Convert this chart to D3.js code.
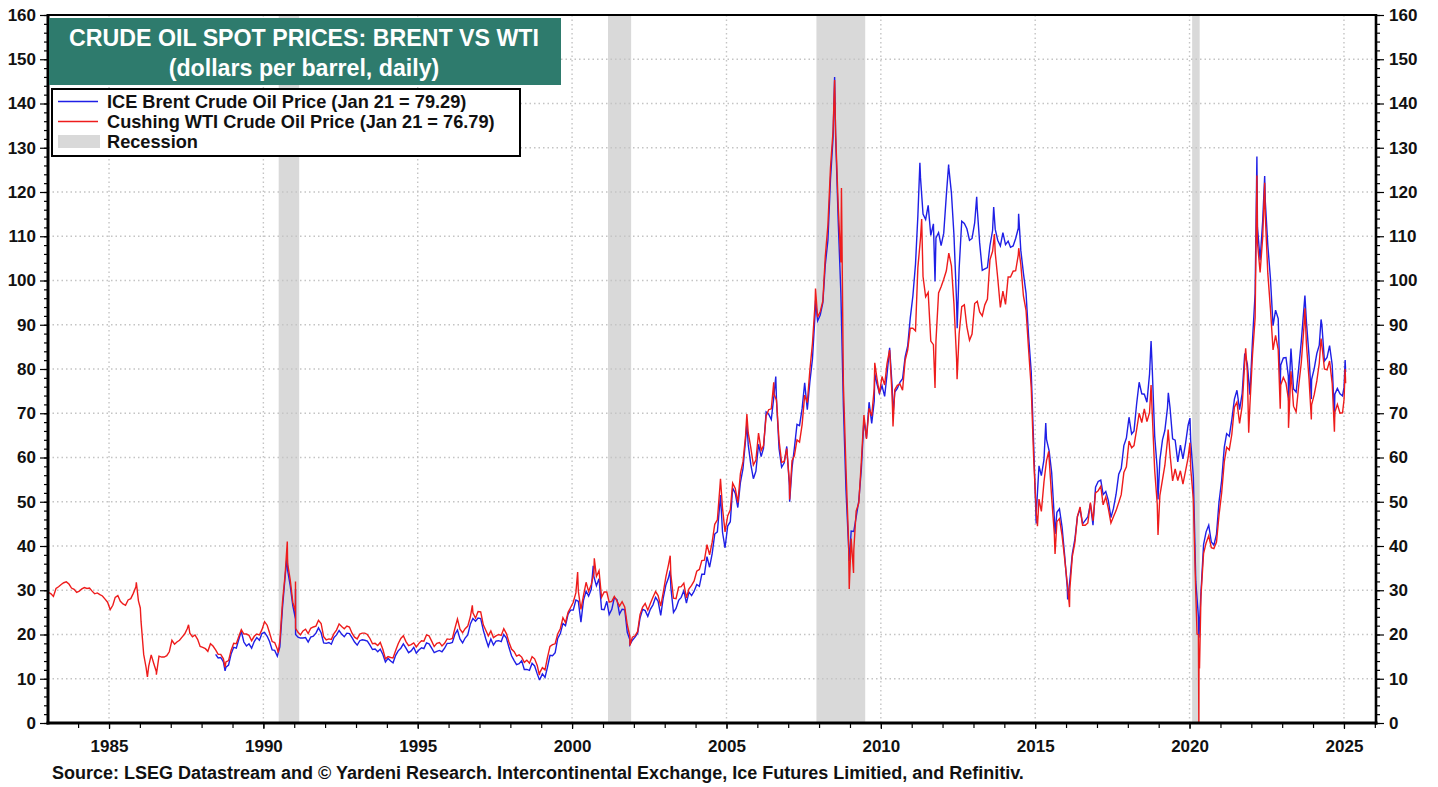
<!DOCTYPE html>
<html><head><meta charset="utf-8">
<script src="https://cdn.jsdelivr.net/npm/d3@7"></script>
<style>
body{margin:0;background:#fff}
svg{display:block}
text{font-family:"Liberation Sans",Arial,sans-serif;font-weight:bold}
</style>
</head><body>
<svg id="chart" width="1438" height="787"></svg>
<script>
// ---------------- DATA ----------------
const wtiStartMonth = "1983-01";
const wtiMonthly = [
/*1983*/ 29.5,29.2,28.6,30.4,30.8,31.3,31.7,31.9,31.4,30.5,30.2,29.5,
/*1984*/ 29.8,30.3,30.6,30.4,30.5,29.8,29.2,29.4,29.0,28.7,28.0,27.3,
/*1985*/ 25.6,26.6,28.4,28.8,27.5,26.9,26.6,27.8,28.1,29.3,30.8,27.6,
/*1986*/ 22.9,15.5,12.6,12.8,15.4,13.4,11.6,15.1,14.9,14.9,15.2,16.1,
/*1987*/ 18.7,17.8,18.3,18.7,19.4,20.1,21.3,20.3,19.5,19.9,18.9,17.3,
/*1988*/ 17.1,16.8,16.2,17.9,17.4,16.5,15.5,15.5,14.5,13.8,14.1,16.4,
/*1989*/ 18.0,17.9,19.5,21.1,20.1,20.1,19.8,18.6,19.6,20.1,19.9,21.1,
/*1990*/ 22.9,22.1,20.4,18.4,18.2,16.7,18.5,27.3,33.5,36.0,32.3,27.3,
/*1991*/ 25.2,20.5,19.9,20.8,21.2,20.2,21.4,21.7,21.9,23.2,22.5,19.5,
/*1992*/ 18.8,19.0,18.9,20.2,21.0,22.4,21.8,21.3,21.9,21.7,20.3,19.4,
/*1993*/ 19.0,20.1,20.3,20.3,20.0,19.1,17.9,18.0,17.5,18.2,16.6,14.5,
/*1994*/ 15.0,14.8,14.7,16.4,17.9,19.1,19.7,18.4,17.5,17.7,18.1,17.2,
/*1995*/ 18.0,18.6,18.5,19.9,19.7,18.5,17.3,18.0,18.2,17.4,18.0,19.0,
/*1996*/ 18.9,19.1,21.3,23.5,21.2,20.4,21.3,21.9,24.0,24.9,23.7,25.2,
/*1997*/ 25.1,22.2,21.0,19.7,20.8,19.3,19.7,20.0,19.8,21.3,20.2,18.3,
/*1998*/ 16.7,16.1,15.1,15.4,14.9,13.7,14.2,13.5,15.0,14.5,13.0,11.4,
/*1999*/ 12.5,12.0,14.7,17.3,17.7,17.9,20.1,21.3,23.8,22.7,25.0,26.1,
/*2000*/ 27.3,29.4,29.8,25.7,28.8,31.8,29.7,31.3,33.9,33.1,34.4,28.4,
/*2001*/ 29.6,29.6,27.3,27.5,28.6,27.6,26.4,27.4,26.2,22.2,19.6,19.4,
/*2002*/ 19.7,20.7,24.5,26.2,27.0,25.5,27.0,28.4,29.7,28.8,26.4,29.5,
/*2003*/ 33.0,35.8,33.5,28.2,28.1,30.7,30.8,31.6,28.3,30.3,31.1,32.1,
/*2004*/ 34.3,34.7,36.7,36.8,40.3,38.0,40.8,44.9,45.9,53.3,48.5,43.2,
/*2005*/ 46.8,48.2,54.2,53.0,49.8,56.4,59.0,65.0,65.6,62.3,58.3,59.4,
/*2006*/ 65.5,61.6,62.7,69.4,70.8,71.0,74.4,73.0,63.8,58.9,59.1,62.0,
/*2007*/ 54.5,59.3,60.4,64.0,63.5,67.5,74.1,72.4,79.9,85.8,94.8,91.7,
/*2008*/ 93.0,95.4,105.5,112.6,125.4,133.9,133.4,116.7,104.1,76.6,57.3,41.1,
/*2009*/ 41.7,39.1,47.9,49.7,59.0,69.6,64.2,71.1,69.4,75.7,78.0,74.5,
/*2010*/ 78.3,76.4,81.2,84.3,73.7,75.3,76.3,76.6,75.2,81.9,84.3,89.2,
/*2011*/ 89.2,88.6,102.9,109.5,100.9,96.3,97.3,86.3,85.5,86.3,97.2,98.6,
/*2012*/ 100.3,102.2,106.2,103.3,94.7,82.3,87.9,94.1,94.5,89.5,86.5,87.9,
/*2013*/ 94.8,95.3,92.9,92.0,94.5,95.8,104.7,106.6,106.3,100.5,93.9,97.6,
/*2014*/ 94.6,100.8,100.8,102.1,102.2,105.8,103.6,96.5,93.2,84.4,75.8,59.3,
/*2015*/ 47.2,50.6,47.8,54.5,59.3,59.8,50.9,42.9,45.5,46.2,42.4,37.2,
/*2016*/ 31.7,30.3,37.6,40.8,46.7,48.8,44.7,44.7,45.2,49.8,45.7,52.0,
/*2017*/ 52.5,53.5,49.3,51.1,48.5,45.2,46.6,48.0,49.8,51.6,56.6,57.9,
/*2018*/ 63.7,62.2,62.7,66.3,70.0,67.9,71.0,68.1,70.2,70.8,57.0,49.5,
/*2019*/ 51.4,55.0,58.2,63.9,60.8,54.7,57.4,54.8,57.0,54.0,57.0,59.9,
/*2020*/ 57.5,50.5,29.2,19.9,28.6,38.3,40.7,42.3,39.6,39.4,40.9,47.0,
/*2021*/ 52.0,59.0,62.3,61.7,65.2,71.4,72.5,67.7,71.7,81.5,79.2,71.7,
/*2022*/ 83.2,91.6,108.5,101.8,109.6,114.8,101.6,93.7,84.3,87.6,84.4,76.4,
/*2023*/ 78.1,76.8,73.3,79.5,71.6,70.3,76.1,81.4,89.4,85.6,77.7,71.9,
/*2024*/ 74.2,77.3,81.3,85.4,80.0,79.8,81.8,76.7,70.2,72.0,70.0,70.1
];
const brentStartMonth = "1988-06";
const brentMonthly = [
/*1988*/ 15.5,14.7,14.8,13.8,12.6,13.1,15.6,
/*1989*/ 17.1,16.9,18.8,20.7,18.3,17.4,17.9,16.9,18.4,19.3,18.7,20.2,
/*1990*/ 20.5,19.6,18.4,16.5,16.4,15.1,17.2,26.0,33.0,34.5,31.0,26.5,
/*1991*/ 23.6,19.4,19.2,19.2,19.3,18.3,19.4,19.6,20.3,21.5,20.4,18.1,
/*1992*/ 18.0,18.2,17.8,19.3,19.9,20.9,20.1,19.5,20.3,20.2,19.3,18.3,
/*1993*/ 17.6,18.6,18.8,18.7,18.5,17.6,16.6,16.7,16.1,16.7,15.5,13.8,
/*1994*/ 14.6,14.0,13.6,15.3,16.3,16.9,17.9,16.9,15.9,16.3,17.1,15.8,
/*1995*/ 16.5,17.0,16.8,18.1,17.9,16.9,15.9,16.2,16.4,16.1,16.9,18.0,
/*1996*/ 18.0,18.2,20.0,21.0,19.0,18.1,19.2,19.9,22.4,23.6,23.0,23.7,
/*1997*/ 23.6,21.0,19.1,17.3,19.0,17.6,18.5,18.6,18.4,20.0,19.2,17.1,
/*1998*/ 15.2,14.1,13.2,13.4,14.1,12.1,12.1,11.9,13.5,12.9,11.1,9.8,
/*1999*/ 11.1,10.3,12.5,15.3,15.2,15.9,19.1,20.2,22.5,22.0,24.6,25.5,
/*2000*/ 25.5,27.8,27.5,22.8,27.7,29.8,28.7,30.2,33.1,31.0,32.6,25.7,
/*2001*/ 25.6,27.5,24.5,25.7,28.3,27.9,24.6,25.7,25.6,20.5,18.8,18.7,
/*2002*/ 19.4,20.3,23.7,25.7,25.4,24.1,25.7,26.7,28.4,27.5,24.3,28.3,
/*2003*/ 31.2,32.8,30.6,25.0,25.9,27.7,28.4,29.9,27.1,29.6,28.8,29.8,
/*2004*/ 31.3,30.9,33.6,33.6,37.6,35.2,38.2,42.7,43.2,49.8,43.1,39.6,
/*2005*/ 44.5,45.5,53.1,51.9,48.7,54.4,57.5,64.0,62.9,58.5,55.2,56.9,
/*2006*/ 63.0,60.2,62.1,70.3,69.8,68.6,73.7,73.2,62.0,57.8,58.8,62.5,
/*2007*/ 53.7,57.6,62.1,67.5,67.2,71.1,76.9,70.8,77.2,82.3,92.4,90.9,
/*2008*/ 92.2,95.0,103.6,109.1,122.8,132.3,132.7,113.2,97.2,71.6,52.5,40.0,
/*2009*/ 43.4,43.3,46.5,50.2,57.3,68.6,64.4,72.5,67.7,72.8,76.7,74.5,
/*2010*/ 76.2,73.8,78.8,84.8,76.0,74.8,75.6,77.0,77.8,82.7,85.3,91.5,
/*2011*/ 96.5,103.7,114.6,123.3,115.0,113.8,117.0,110.2,112.8,109.6,110.8,107.9,
/*2012*/ 110.7,119.3,125.5,119.8,110.3,95.2,102.6,113.4,112.9,111.7,109.1,109.5,
/*2013*/ 113.0,116.1,108.5,102.3,102.6,102.9,107.9,111.3,111.6,109.1,107.8,110.8,
/*2014*/ 108.1,108.9,107.5,107.8,109.5,111.8,106.8,101.6,97.1,87.4,79.4,62.3,
/*2015*/ 47.8,58.1,55.9,59.5,64.1,61.5,56.6,46.5,47.6,48.4,44.3,38.0,
/*2016*/ 30.7,32.2,38.2,41.6,46.7,48.3,45.0,45.8,46.6,49.5,44.7,53.3,
/*2017*/ 54.6,54.9,51.6,52.3,50.3,46.4,48.5,51.7,56.2,57.5,62.7,64.4,
/*2018*/ 69.1,65.3,66.0,72.1,77.0,74.4,74.3,72.5,78.9,81.0,64.8,57.4,
/*2019*/ 59.4,64.0,66.1,71.2,71.3,64.2,63.9,59.0,62.8,59.7,63.2,67.3,
/*2020*/ 63.7,55.7,32.0,24.0,29.4,40.3,43.2,44.7,40.9,40.2,42.7,50.0,
/*2021*/ 54.8,62.3,65.4,64.8,68.5,73.2,75.2,70.8,74.5,83.5,81.1,74.2,
/*2022*/ 86.5,97.1,112.0,104.6,113.3,118.0,108.0,100.5,89.8,93.3,91.4,80.9,
/*2023*/ 82.5,82.6,78.4,84.6,75.5,74.8,80.1,86.2,93.7,90.6,82.9,77.6,
/*2024*/ 80.1,83.5,85.4,89.9,81.8,82.6,85.3,80.9,74.3,75.6,74.4,73.9
];
// daily extremes
const wtiSpikes = [
["1985-11-20",31.8],["1986-01-06",26.0],["1986-03-31",10.4],["1986-07-15",10.9],
["1987-07-31",22.2],["1988-10-05",12.6],["1990-06-25",15.9],["1990-10-11",41.0],
["1991-01-16",32.0],["1991-01-17",21.4],["1996-10-08",26.6],["1998-12-10",10.8],
["2000-03-07",34.1],["2000-09-20",37.2],["2001-11-15",17.5],["2003-03-07",37.8],
["2004-10-22",55.2],["2005-08-30",69.8],["2006-07-14",77.0],["2007-01-18",50.5],
["2007-11-20",98.2],["2008-07-03",145.3],["2008-09-22",120.9],["2008-12-23",30.3],
["2009-02-12",33.9],["2009-10-21",81.4],["2010-05-25",67.0],["2011-04-29",113.9],
["2011-10-04",75.7],["2012-06-21",77.7],["2013-09-06",110.5],["2014-06-20",107.3],
["2015-01-28",44.5],["2015-06-10",61.4],["2015-08-24",38.2],["2016-02-11",26.2],
["2018-10-03",76.4],["2018-12-24",42.5],["2019-04-23",66.3],["2020-01-06",63.3],
["2020-03-30",20.1],["2020-04-20",0],["2020-04-21",10.0],["2020-04-22",13.8],
["2020-04-28",12.3],["2021-10-26",84.7],["2021-12-01",65.6],["2022-03-08",123.7],
["2022-06-08",122.1],["2022-12-09",71.0],["2023-03-17",66.7],["2023-09-27",93.7],
["2023-12-12",68.6],["2024-04-05",86.9],["2024-09-10",65.8],["2025-01-02",73.1],
["2025-01-15",80.0],["2025-01-21",76.79]
];
const brentSpikes = [
["1988-10-05",11.8],["1990-10-10",38.0],["1991-01-16",30.3],["1991-01-17",20.0],
["1998-12-10",9.8],["2000-09-07",35.5],["2001-11-15",17.7],["2003-03-07",34.5],
["2004-10-22",51.5],["2005-08-30",67.7],["2006-08-07",78.3],["2007-01-18",50.0],
["2007-11-20",95.5],["2008-07-03",146.0],["2008-12-24",36.6],["2009-10-21",79.0],
["2010-05-25",69.6],["2011-04-08",126.6],["2011-10-04",99.8],["2012-03-13",126.2],
["2012-06-22",89.2],["2013-02-08",118.9],["2013-08-28",116.6],["2014-06-19",115.1],
["2015-01-13",45.1],["2015-05-06",67.8],["2015-08-24",42.7],["2016-01-20",27.9],
["2018-10-03",86.3],["2018-12-24",50.5],["2019-04-25",74.6],["2020-01-06",68.9],
["2020-04-21",19.3],["2022-03-08",128.0],["2022-06-08",123.6],["2022-12-09",76.1],
["2023-03-17",72.9],["2023-09-27",96.6],["2023-12-12",73.2],["2024-04-05",91.2],
["2024-09-10",69.2],["2025-01-02",75.9],["2025-01-15",82.0],["2025-01-21",79.29]
];
const recessions = [
["1990-07-01","1991-03-01"],["2001-03-01","2001-11-30"],
["2007-12-01","2009-06-30"],["2020-02-01","2020-04-30"]
];
const yTickValues = [0,10,20,30,40,50,60,70,80,90,100,110,120,130,140,150,160];
const xTickYears = [1985,1990,1995,2000,2005,2010,2015,2020,2025];
const titleLines = ["CRUDE OIL SPOT PRICES: BRENT VS WTI","(dollars per barrel, daily)"];
const legendLabels = ["ICE Brent Crude Oil Price (Jan 21 = 79.29)","Cushing WTI Crude Oil Price (Jan 21 = 76.79)","Recession"];
const sourceText = "Source: LSEG Datastream and \u00A9 Yardeni Research. Intercontinental Exchange, Ice Futures Limitied, and Refinitiv.";

// ---------------- LAYOUT ----------------
const L = 48, R = 1376, T = 15, B = 723;
const blue = "#1f1fe6", red = "#ee1c1c", recessColor = "#d9d9d9", teal = "#2e7b6d";
const svg = d3.select("#chart");
const parse = d3.timeParse("%Y-%m-%d");

function monthly(start, vals) {
  const [yy, mm] = start.split("-").map(Number);
  return vals.map((v, i) => ({date: new Date(yy, mm - 1 + i, 15), value: v}));
}
function merge(m, spikes) {
  return m.concat(spikes.map(([d, v]) => ({date: parse(d), value: v})))
          .sort((a, b) => a.date - b.date);
}
const wti = merge(monthly(wtiStartMonth, wtiMonthly), wtiSpikes);
const brent = merge(monthly(brentStartMonth, brentMonthly), brentSpikes);

const x = d3.scaleTime().domain([new Date(1983, 0, 10), new Date(2026, 0, 15)]).range([L, R]);
const y = d3.scaleLinear().domain([0, 160]).range([B, T]);

svg.append("defs").append("clipPath").attr("id", "clip")
  .append("rect").attr("x", L).attr("y", T).attr("width", R - L).attr("height", B - T);

// recessions
svg.append("g").selectAll("rect").data(recessions).join("rect")
  .attr("x", d => x(parse(d[0])))
  .attr("width", d => x(parse(d[1])) - x(parse(d[0])))
  .attr("y", T).attr("height", B - T).attr("fill", recessColor);

// gridlines
const grid = svg.append("g").attr("stroke", "#c4c4c4").attr("stroke-width", 1.4)
  .attr("stroke-dasharray", "1.5,3");
grid.selectAll("line.h").data(yTickValues.filter(v => v > 0 && v < 160)).join("line")
  .attr("x1", L).attr("x2", R).attr("y1", d => y(d)).attr("y2", d => y(d));
grid.selectAll("line.v").data(xTickYears).join("line")
  .attr("y1", T).attr("y2", B).attr("x1", d => x(new Date(d, 0, 1))).attr("x2", d => x(new Date(d, 0, 1)));

// lines
const line = d3.line().x(d => x(d.date)).y(d => y(d.value));
const lg = svg.append("g").attr("clip-path", "url(#clip)").attr("fill", "none");
lg.append("path").datum(brent).attr("d", line).attr("stroke", blue).attr("stroke-width", 1.4);
lg.append("path").datum(wti).attr("d", line).attr("stroke", red).attr("stroke-width", 1.4);

// axes
const fs = 17;
const minorY = d3.range(0, 161, 2);
const axL = svg.append("g").attr("transform", `translate(${L},0)`)
  .call(d3.axisLeft(y).tickValues(minorY).tickSize(4).tickFormat(""));
const axL2 = svg.append("g").attr("transform", `translate(${L},0)`)
  .call(d3.axisLeft(y).tickValues(yTickValues).tickSize(8).tickPadding(4));
const axR = svg.append("g").attr("transform", `translate(${R},0)`)
  .call(d3.axisRight(y).tickValues(minorY).tickSize(4).tickFormat(""));
const axR2 = svg.append("g").attr("transform", `translate(${R},0)`)
  .call(d3.axisRight(y).tickValues(yTickValues).tickSize(8).tickPadding(5));
const minorX = d3.range(1983, 2027).map(yy => new Date(yy, 0, 1)).filter(d => d >= x.domain()[0] && d <= x.domain()[1]);
const axB = svg.append("g").attr("transform", `translate(0,${B})`)
  .call(d3.axisBottom(x).tickValues(minorX).tickSize(5).tickFormat(""));
const axB2 = svg.append("g").attr("transform", `translate(0,${B})`)
  .call(d3.axisBottom(x).tickValues(xTickYears.map(yy => new Date(yy, 0, 1))).tickSize(6).tickPadding(11)
  .tickFormat(d3.timeFormat("%Y")));
[axL, axL2, axR, axR2, axB, axB2].forEach(g => {
  g.select(".domain").remove();
  g.selectAll("line").attr("stroke", "#000").attr("stroke-width", 1.2);
  g.selectAll("text").attr("font-size", fs).attr("fill", "#111")
    .style("font-family", '"Liberation Sans",Arial,sans-serif').style("font-weight", "bold");
});

// frame
svg.append("rect").attr("x", L).attr("y", T).attr("width", R - L).attr("height", B - T)
  .attr("fill", "none").attr("stroke", "#000").attr("stroke-width", 2);
svg.append("line").attr("x1", L).attr("x2", L).attr("y1", T - 1).attr("y2", B + 1.5).attr("stroke", "#000").attr("stroke-width", 3);
svg.append("line").attr("x1", L - 1.5).attr("x2", R + 1.5).attr("y1", B).attr("y2", B).attr("stroke", "#000").attr("stroke-width", 3);
svg.append("line").attr("x1", R).attr("x2", R).attr("y1", T - 1).attr("y2", B + 1.5).attr("stroke", "#000").attr("stroke-width", 2.6);

// title box
svg.append("rect").attr("x", 49).attr("y", 18).attr("width", 512).attr("height", 67).attr("fill", teal);
svg.append("g").selectAll("text").data(titleLines).join("text")
  .attr("x", 304).attr("y", (d, i) => 46 + i * 30).attr("text-anchor", "middle")
  .attr("fill", "#fff").attr("font-size", 23.2).text(d => d);

// legend
svg.append("rect").attr("x", 52).attr("y", 89).attr("width", 468).attr("height", 67)
  .attr("fill", "#fff").attr("stroke", "#000").attr("stroke-width", 2);
const leg = svg.append("g");
[blue, red].forEach((c, i) => {
  leg.append("line").attr("x1", 58).attr("x2", 98).attr("y1", 101.5 + i * 20).attr("y2", 101.5 + i * 20)
    .attr("stroke", c).attr("stroke-width", 1.3);
});
leg.append("rect").attr("x", 58).attr("y", 135).attr("width", 42).attr("height", 13).attr("fill", recessColor);
leg.selectAll("text").data(legendLabels).join("text")
  .attr("x", 107).attr("y", (d, i) => 108 + i * 20).attr("font-size", 18.2).attr("fill", "#111").text(d => d);

// source
svg.append("text").attr("x", 52).attr("y", 779).attr("font-size", 18).attr("fill", "#111").text(sourceText);
</script>
</body></html>
